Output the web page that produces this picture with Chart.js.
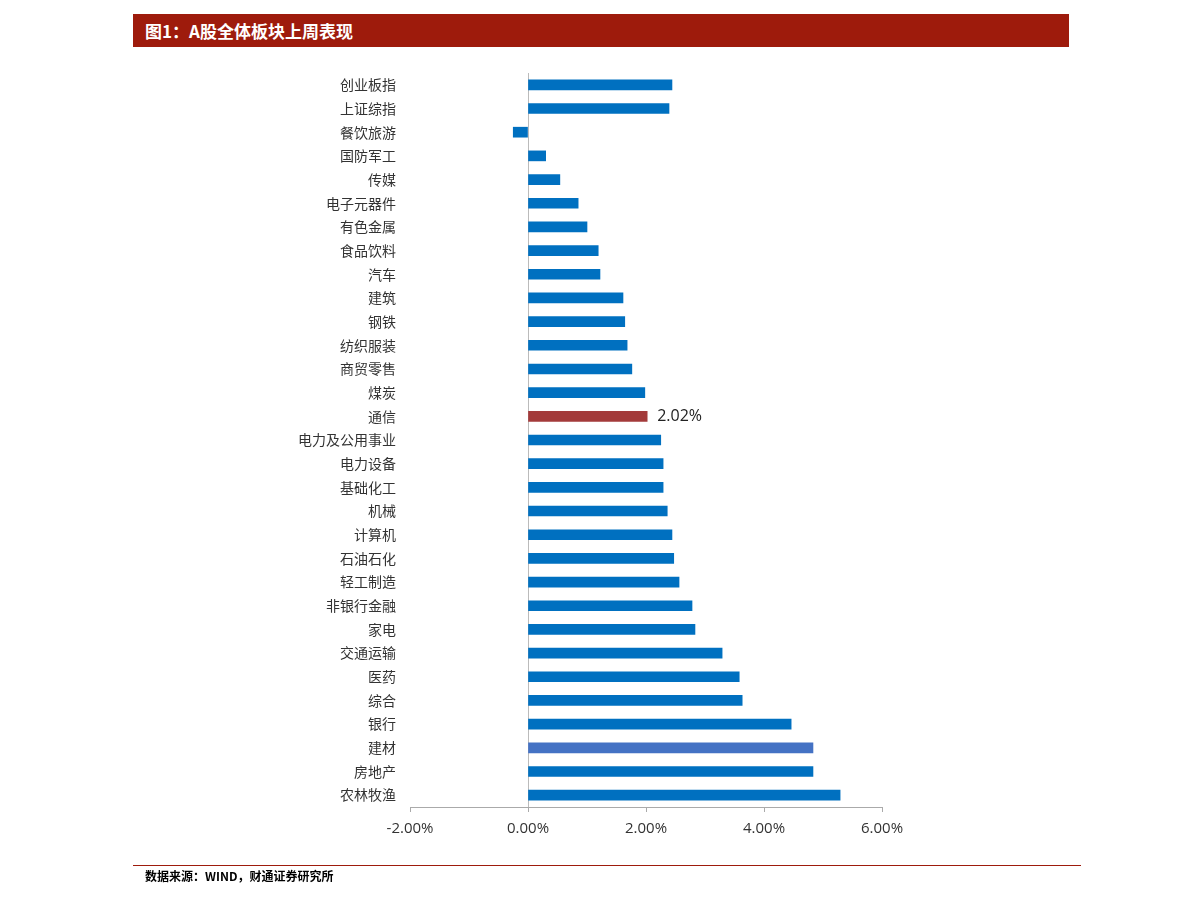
<!DOCTYPE html>
<html><head><meta charset="utf-8">
<script src="https://cdn.jsdelivr.net/npm/chart.js@4"></script>
<style>
body{margin:0;background:#fff;width:1191px;height:903px;position:relative;overflow:hidden;font-family:"Noto Sans CJK SC",sans-serif}
#hdr{position:absolute;left:133px;top:14px;width:936px;height:33px;background:#9E1B0C;color:#fff;font-weight:bold;font-size:17px;line-height:33px;padding-left:12px;box-sizing:border-box}
#ft{position:absolute;left:133px;top:865px;width:936px;border-top:1px solid #9E1B0C;font-size:12px;padding-left:12px;padding-top:1px;font-weight:bold}
#wrap{position:absolute;left:0;top:0;width:1191px;height:903px}
</style></head><body>
<div id="hdr">图1：A股全体板块上周表现</div>
<div id="wrap"><canvas id="c"></canvas></div>
<div id="ft">数据来源：WIND，财通证券研究所</div>
<script>
const categories=["创业板指","上证综指","餐饮旅游","国防军工","传媒","电子元器件","有色金属","食品饮料","汽车","建筑","钢铁","纺织服装","商贸零售","煤炭","通信","电力及公用事业","电力设备","基础化工","机械","计算机","石油石化","轻工制造","非银行金融","家电","交通运输","医药","综合","银行","建材","房地产","农林牧渔"];
const values=[2.44,2.39,-0.25,0.30,0.54,0.85,1.00,1.19,1.22,1.61,1.64,1.68,1.76,1.98,2.02,2.25,2.29,2.29,2.36,2.44,2.47,2.56,2.78,2.83,3.29,3.58,3.63,4.46,4.83,4.83,5.29];
const highlightLabel="通信";
const colors=categories.map(c=>c==="通信"?"#A33A3A":(c==="建材"?"#4472C4":"#0070C0"));
const labelPlugin={id:'lbl',afterDatasetsDraw(ch){
  const i=categories.indexOf(highlightLabel);const el=ch.getDatasetMeta(0).data[i];
  const g=ch.ctx;g.save();g.font='16px "Open Sans"';g.fillStyle='#222';g.textBaseline='middle';
  g.fillText(values[i].toFixed(2)+'%',el.x+10,el.y);g.restore();}};
new Chart(document.getElementById('c'),{type:'bar',
 data:{labels:categories,datasets:[{data:values,backgroundColor:colors,barThickness:10}]},
 options:{indexAxis:'y',responsive:true,maintainAspectRatio:false,animation:false,
  layout:{padding:{left:0,right:309,top:73,bottom:0}},
  plugins:{legend:{display:false},tooltip:{enabled:false}},
  scales:{
   y:{afterFit(s){s.width=410},grid:{display:false},border:{display:false},
      ticks:{color:'#333',font:{size:14,family:'"Noto Sans CJK SC"'},padding:6}},
   x:{min:-2,max:6,afterFit(s){s.height=96},
      ticks:{stepSize:2,color:'#333',font:{size:15,family:'"Open Sans"'},padding:8,callback:v=>v.toFixed(2)+'%'},
      grid:{color:c=>c.tick&&c.tick.value===0?'#bbb':'transparent',tickColor:'#aaa',tickLength:5,drawOnChartArea:true},
      border:{display:true,color:'#aaa'}}
  }},plugins:[labelPlugin]});
</script></body></html>
